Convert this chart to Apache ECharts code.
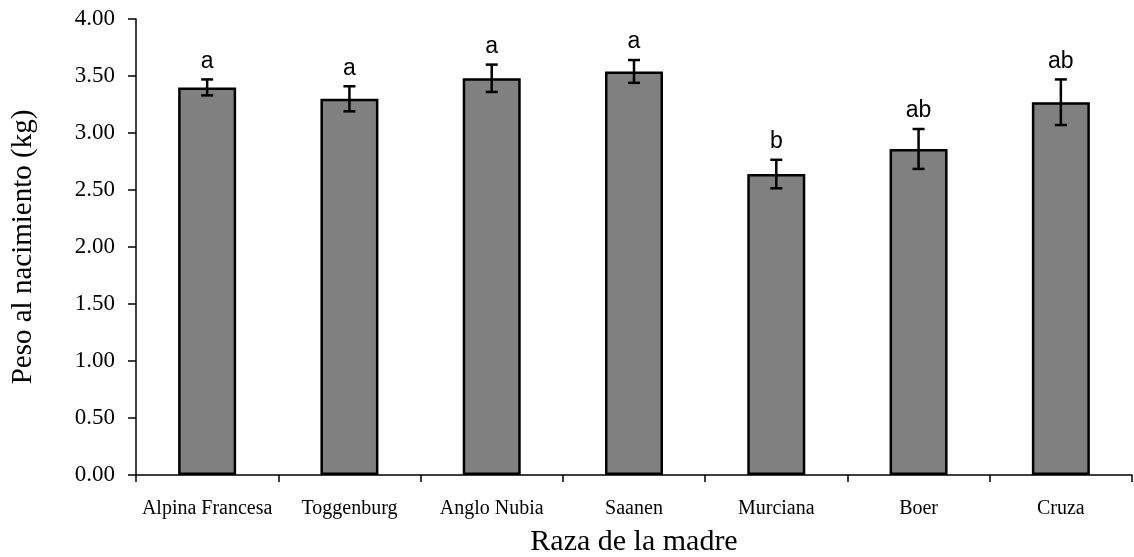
<!DOCTYPE html>
<html>
<head>
<meta charset="utf-8">
<script src="https://cdn.jsdelivr.net/npm/echarts@6/dist/echarts.min.js"></script>
<style>
  html, body { margin: 0; padding: 0; background: #fff; }
  #chart { width: 1134px; height: 557px; }
</style>
</head>
<body>
<div id="chart"></div>
<script>
// Birth weight by dam breed: mean, standard error and significance letter
const razas = ['Alpina Francesa', 'Toggenburg', 'Anglo Nubia', 'Saanen', 'Murciana', 'Boer', 'Cruza'];
const pesoMedio = [3.40, 3.30, 3.48, 3.54, 2.64, 2.86, 3.27];
const errorEst = [0.07, 0.11, 0.12, 0.10, 0.125, 0.175, 0.20];
const letras = ['a', 'a', 'a', 'a', 'b', 'ab', 'ab'];
const ticksY = [0, 0.5, 1, 1.5, 2, 2.5, 3, 3.5, 4];

const chart = echarts.init(document.getElementById('chart'), null, { renderer: 'canvas' });

const errData = razas.map((r, i) => [i, pesoMedio[i], errorEst[i]]);

chart.setOption({
  animation: false,
  grid: { left: 136, right: 2, top: 19, bottom: 82, containLabel: false, outerBoundsMode: 'none' },
  xAxis: {
    type: 'category',
    data: razas,
    name: 'Raza de la madre',
    nameLocation: 'middle',
    nameGap: 52,
    nameTextStyle: { fontFamily: 'Liberation Serif', fontSize: 30, color: '#000' },
    axisLine: { lineStyle: { color: '#000', width: 1.5 } },
    axisTick: { show: true, inside: false, length: 7, alignWithLabel: false, lineStyle: { color: '#000', width: 1.5 } },
    axisLabel: { fontFamily: 'Liberation Serif', fontSize: 20, color: '#000', margin: 24, interval: 0 },
    splitLine: { show: false }
  },
  yAxis: {
    type: 'value',
    min: 0,
    max: 4,
    interval: 0.5,
    name: 'Peso al nacimiento (kg)',
    nameLocation: 'middle',
    nameGap: 98,
    nameTextStyle: { fontFamily: 'Liberation Serif', fontSize: 29, color: '#000' },
    axisLine: { show: true, lineStyle: { color: '#000', width: 1.5 } },
    axisTick: { show: true, inside: false, length: 8, lineStyle: { color: '#000', width: 1.5 } },
    axisLabel: {
      fontFamily: 'Liberation Serif', fontSize: 23, color: '#000', margin: 21,
      formatter: v => ticksY.includes(v) ? v.toFixed(2) : ''
    },
    splitLine: { show: false }
  },
  series: [
    {
      type: 'bar',
      data: pesoMedio,
      barWidth: 58,
      itemStyle: { color: '#808080', borderColor: '#000', borderWidth: 2.5 }
    },
    {
      type: 'custom',
      data: errData,
      z: 10,
      renderItem: function (params, api) {
        const i = api.value(0);
        const m = api.value(1);
        const e = api.value(2);
        const top = api.coord([i, m + e]);
        const bot = api.coord([i, m - e]);
        const cap = 6;
        const st = { stroke: '#000', lineWidth: 2.5 };
        return {
          type: 'group',
          children: [
            { type: 'line', shape: { x1: top[0], y1: top[1], x2: bot[0], y2: bot[1] }, style: st },
            { type: 'line', shape: { x1: top[0] - cap, y1: top[1], x2: top[0] + cap, y2: top[1] }, style: st },
            { type: 'line', shape: { x1: bot[0] - cap, y1: bot[1], x2: bot[0] + cap, y2: bot[1] }, style: st },
            {
              type: 'text',
              style: {
                text: letras[i],
                x: top[0], y: top[1] - 18,
                align: 'center', verticalAlign: 'middle',
                font: '23px "Liberation Sans"', fill: '#000'
              }
            }
          ]
        };
      }
    }
  ]
});
</script>
</body>
</html>
